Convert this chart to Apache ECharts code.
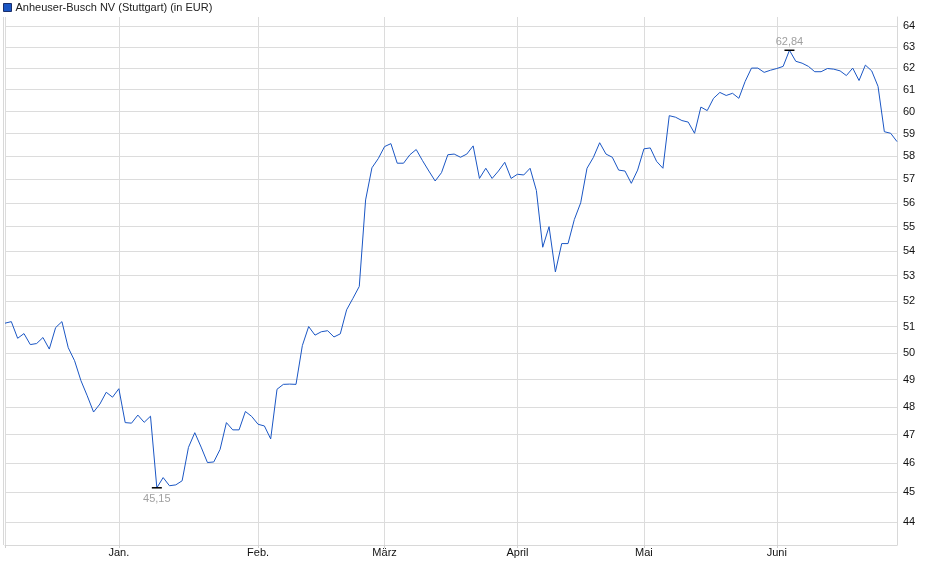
<!DOCTYPE html>
<html>
<head>
<meta charset="utf-8">
<script src="https://cdn.jsdelivr.net/npm/echarts@6/dist/echarts.min.js"></script>
<style>
  html, body { margin: 0; padding: 0; background: #fff; }
  #chart { width: 940px; height: 579px; }
</style>
</head>
<body>
<div id="chart"></div>
<script>
// Kurs je Handelstag, Dez. bis Juni
const prices = [
  51.13, 51.19, 50.55, 50.73, 50.31, 50.35, 50.58, 50.14, 50.96, 51.19,
  50.19, 49.70, 48.96, 48.40, 47.81, 48.10, 48.53, 48.35, 48.66, 47.43,
  47.41, 47.70, 47.44, 47.66, 45.15, 45.50, 45.22, 45.25, 45.39, 46.55,
  47.07, 46.56, 46.02, 46.04, 46.48, 47.43, 47.17, 47.17, 47.83, 47.65,
  47.37, 47.31, 46.85, 48.64, 48.82, 48.83, 48.82, 50.27, 51.00, 50.67,
  50.80, 50.84, 50.60, 50.72, 51.65, 52.10, 52.57, 56.12, 57.50, 57.90,
  58.43, 58.56, 57.70, 57.70, 58.07, 58.30, 57.81, 57.36, 56.93, 57.29,
  58.07, 58.10, 57.96, 58.10, 58.46, 57.04, 57.48, 57.04, 57.36, 57.74,
  57.04, 57.22, 57.19, 57.48, 56.52, 54.15, 55.00, 53.15, 54.30, 54.30,
  55.30, 56.00, 57.48, 57.95, 58.60, 58.10, 57.96, 57.40, 57.36, 56.83,
  57.40, 58.33, 58.37, 57.78, 57.48, 59.81, 59.74, 59.59, 59.52, 59.02,
  60.20, 60.04, 60.60, 60.87, 60.73, 60.83, 60.60, 61.38, 62.00, 62.00,
  61.80, 61.90, 61.98, 62.08, 62.84, 62.32, 62.23, 62.08, 61.83, 61.83,
  61.98, 61.95, 61.87, 61.65, 62.00, 61.42, 62.14, 61.87, 61.15, 59.09,
  59.02, 58.65
]

// erster Handelstag je Monat (Index in prices)
const monthStart = [0, 18, 40, 60, 81, 101, 122]
const monthLabels = ['', 'Jan.', 'Feb.', 'März', 'April', 'Mai', 'Juni']

const yTicks = [44, 45, 46, 47, 48, 49, 50, 51, 52, 53, 54, 55, 56, 57, 58, 59, 60, 61, 62, 63, 64]

const days = prices.map((_, i) => 'T' + i)

const fontFamily = '"Liberation Sans", Arial, sans-serif'
const isMonth = (index) => monthStart.indexOf(index) >= 0

let chart = echarts.init(document.getElementById('chart'))
let option = {
  animation: false,
  textStyle: { fontFamily: fontFamily },
  legend: {
    left: 0,
    top: 0,
    padding: [2, 3],
    icon: 'rect',
    itemWidth: 8,
    itemHeight: 8,
    itemGap: 4,
    itemStyle: { borderColor: '#1b2f6b', borderWidth: 1 },
    textStyle: { fontSize: 11, color: '#222', fontFamily: fontFamily, padding: [0, 0, 0, -1] }
  },
  grid: {
    left: 5,
    right: 43,
    top: 17,
    bottom: 34
  },
  // linker Rand (doppelte Linie wie im Original)
  graphic: [
    {
      type: 'line',
      shape: { x1: 3.5, y1: 17, x2: 3.5, y2: 545 },
      style: { stroke: '#d8d8d8', lineWidth: 1 }
    }
  ],
  xAxis: {
    type: 'category',
    data: days,
    boundaryGap: false,
    axisLine: { show: true, lineStyle: { color: '#d8d8d8', width: 1 } },
    axisTick: {
      show: true,
      interval: isMonth,
      length: 3,
      lineStyle: { color: '#d0d0d0' }
    },
    splitLine: {
      show: true,
      interval: isMonth,
      lineStyle: { color: '#dcdcdc', width: 1 }
    },
    axisLabel: {
      interval: isMonth,
      margin: 2,
      fontSize: 11,
      color: '#111',
      fontFamily: fontFamily,
      formatter: (value, index) => {
        let k = monthStart.indexOf(index)
        return k >= 0 ? monthLabels[k] : ''
      }
    }
  },
  yAxis: {
    type: 'log',
    position: 'right',
    min: 43.24,
    max: 64.44,
    axisLine: { show: true, lineStyle: { color: '#d8d8d8', width: 1 } },
    axisTick: { show: false, customValues: yTicks },
    splitLine: { show: true, lineStyle: { color: '#dcdcdc', width: 1 } },
    minorSplitLine: { show: false },
    axisLabel: {
      customValues: yTicks,
      margin: 6,
      fontSize: 11,
      color: '#111',
      fontFamily: fontFamily
    }
  },
  series: [
    {
      name: 'Anheuser-Busch NV (Stuttgart) (in EUR)',
      type: 'line',
      data: prices,
      symbol: 'none',
      lineStyle: { color: '#1a56c4', width: 1 },
      itemStyle: { color: '#1a56c4' },
      markPoint: {
        symbol: 'rect',
        symbolSize: [10, 1.5],
        itemStyle: { color: '#000' },
        label: {
          fontSize: 11,
          color: '#a0a0a0',
          fontFamily: fontFamily,
          formatter: (p) => p.value.toFixed(2).replace('.', ',')
        },
        data: [
          { type: 'min', label: { position: 'bottom', distance: 5 } },
          { type: 'max', label: { position: 'top', distance: 2 } }
        ]
      }
    }
  ]
}
option && chart.setOption(option)
</script>
</body>
</html>
